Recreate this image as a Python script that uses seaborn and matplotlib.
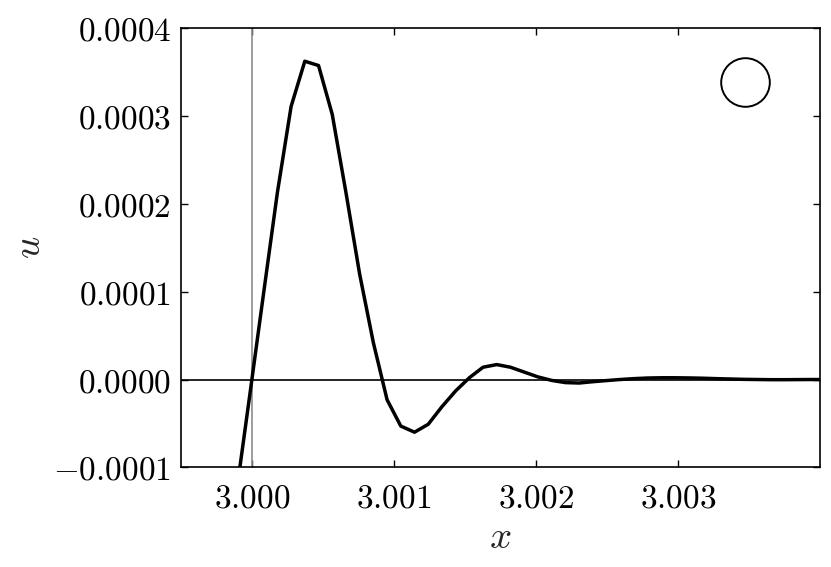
import matplotlib
matplotlib.use("Agg")
import matplotlib.pyplot as plt
import seaborn as sns
import numpy as np
import pandas as pd

# ---- data ----
x_vals = [2.9998892, 2.9999858, 3.0000823, 3.0001789, 3.0002754, 3.0003719,
          3.0004685, 3.0005650, 3.0006616, 3.0007581, 3.0008546, 3.0009512,
          3.0010477, 3.0011443, 3.0012408, 3.0013373, 3.0014339, 3.0015304,
          3.0016270, 3.0017235, 3.0018200, 3.0019166, 3.0020131, 3.0021097,
          3.0022062, 3.0023027, 3.0023993, 3.0024958, 3.0025924, 3.0026889,
          3.0027854, 3.0028820, 3.0029785, 3.0030751, 3.0031716, 3.0032681,
          3.0033647, 3.0034612, 3.0035578, 3.0036543, 3.0037508, 3.0038474,
          3.0039439, 3.0040405]
u_vals_e4 = [-1.30, -0.16, 0.99, 2.13, 3.11, 3.625,
             3.576, 3.02, 2.13, 1.20, 0.42, -0.23,
             -0.53, -0.60, -0.51, -0.31, -0.13, 0.02,
             0.14, 0.17, 0.14, 0.085, 0.03, -0.01,
             -0.035, -0.04, -0.025, -0.012, 0.0, 0.01,
             0.017, 0.02, 0.02, 0.018, 0.015, 0.01,
             0.006, 0.002, 0.0, -0.002, -0.002, -0.001,
             0.0, 0.0]
u_vals = [v * 1e-4 for v in u_vals_e4]

marker_x = [3.003472]
marker_y = [3.386e-4]

x_ticks = [3.000, 3.001, 3.002, 3.003]
x_ticklabels = ["3.000", "3.001", "3.002", "3.003"]
y_ticks = [-0.0001, 0.0, 0.0001, 0.0002, 0.0003, 0.0004]
y_ticklabels = ["-0.0001", "0.0000", "0.0001", "0.0002", "0.0003", "0.0004"]

sns.set_style("ticks")
plt.rcParams["mathtext.fontset"] = "cm"
plt.rcParams["font.family"] = ["DejaVu Serif"]

fig = plt.figure(figsize=(8.31, 5.67), dpi=100)
ax = fig.add_axes([0.2178, 0.1758, 0.9868 - 0.2178, 0.9501 - 0.1758])

df = pd.DataFrame({"x": x_vals, "u": u_vals})
ax.axhline(0.0, color="black", lw=1.2, zorder=1)
ax.axvline(3.0, color="#8c8c8c", lw=1.2, zorder=1)
sns.lineplot(data=df, x="x", y="u", sort=False, estimator=None,
             color="black", lw=2.5, ax=ax, zorder=3)
ax.plot(marker_x, marker_y, marker="o", ms=35, mfc="none", mec="black",
        mew=1.4, ls="none", zorder=4)

ax.set_xlim(2.9995, 3.004)
ax.set_ylim(-0.0001, 0.0004)
ax.set_xticks(x_ticks)
ax.set_xticklabels(["$" + t + "$" for t in x_ticklabels])
ax.set_yticks(y_ticks)
ax.set_yticklabels(["$" + t + "$" for t in y_ticklabels])
ax.tick_params(direction="in", length=5, width=1, labelsize=24, pad=7,
               top=True, right=True, colors="black")
ax.tick_params(axis="x", pad=11)
for s in ax.spines.values():
    s.set_linewidth(1.2)
    s.set_color("black")
ax.set_xlabel("$x$", fontsize=28, labelpad=3)
ax.set_ylabel("$u$", fontsize=28, labelpad=4)

fig.savefig("out.png", dpi=100)
